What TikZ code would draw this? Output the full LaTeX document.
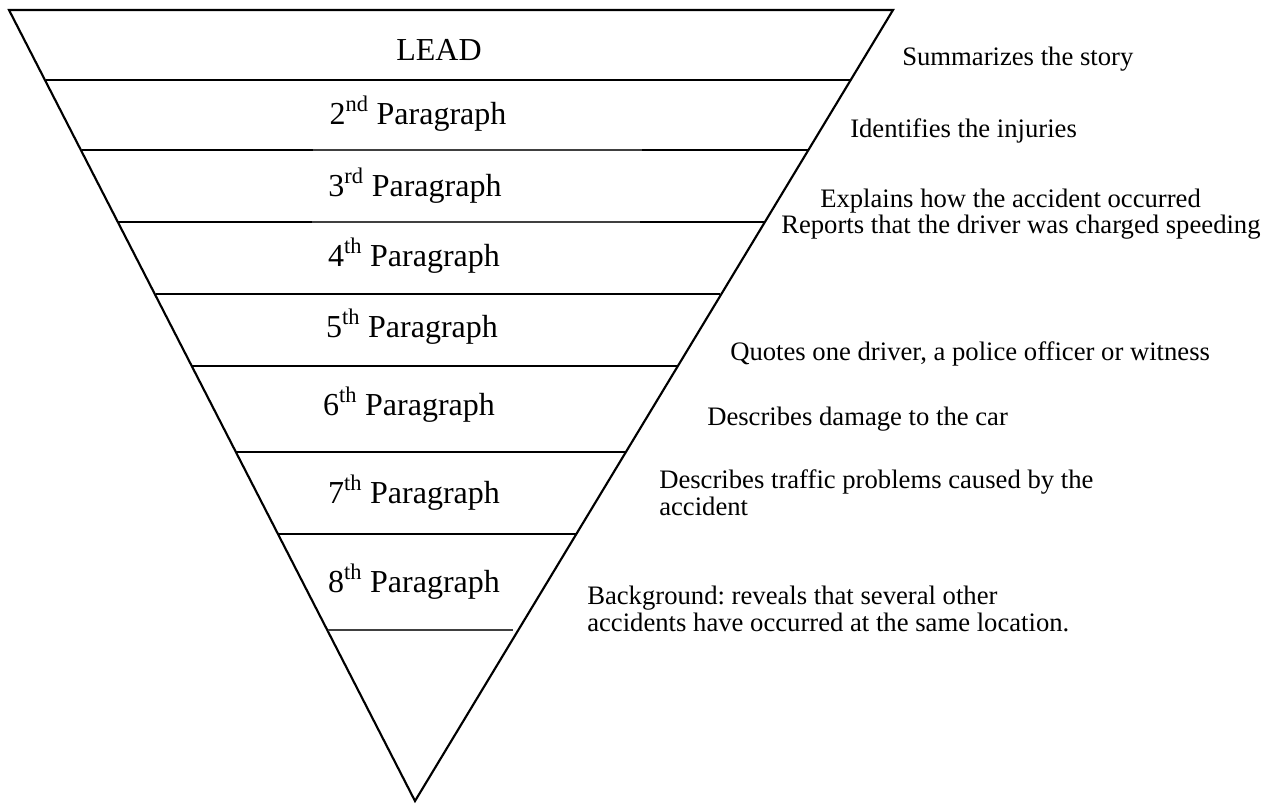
\documentclass[tikz,border=0pt]{standalone}
\usepackage{fontspec}
\setmainfont{Liberation Serif}
\frenchspacing
\tikzset{
  para/.style={font=\fontsize{24}{28}\selectfont, anchor=base, inner sep=0pt},
  desc/.style={font=\fontsize{20}{24}\selectfont, anchor=base west, inner sep=0pt},
  rule/.style={line width=1.6pt},
  thinrule/.style={line width=1pt, black!75}
}
\begin{document}
\begin{tikzpicture}[x=0.75pt,y=-0.75pt]
\useasboundingbox (0,0) rectangle (1274,803);
% funnel
\draw [rule,line join=miter](9,10) -- (893,10) -- (415,801) -- cycle;
% dividers
\draw [rule](46,80) -- (850,80);
\draw [rule](82,150) -- (313,150);
\draw [thinrule](313,150) -- (642,150);
\draw [rule](642,150) -- (808,150);
\draw [rule](118,222) -- (312,222);
\draw [thinrule](312,222) -- (640,222);
\draw [rule](640,222) -- (764,222);
\draw [rule](156,294) -- (720,294);
\draw [rule](192,366) -- (678,366);
\draw [rule](236,452) -- (625,452);
\draw [rule](278,534) -- (576,534);
\draw [thinrule,line width=1.6pt](328,630) -- (513,630);
% paragraph labels
\node [para] (lead) at (439,60) {LEAD};
\node [para] (p2) at (418,124) {2\textsuperscript{nd} Paragraph};
\node [para] (p3) at (415,196) {3\textsuperscript{rd} Paragraph};
\node [para] (p4) at (414,266) {4\textsuperscript{th} Paragraph};
\node [para] (p5) at (412,337) {5\textsuperscript{th} Paragraph};
\node [para] (p6) at (409,415) {6\textsuperscript{th} Paragraph};
\node [para] (p7) at (414,503) {7\textsuperscript{th} Paragraph};
\node [para] (p8) at (414,592) {8\textsuperscript{th} Paragraph};
% what each paragraph does
\node [desc] (summ) at (902,65) {Summarizes the story};
\node [desc] (inj) at (850,137) {Identifies the injuries};
\node [desc] (how) at (820,207) {Explains how the accident occurred};
\node [desc] (chg) at (781,233) {Reports that the driver was charged speeding};
\node [desc] (quote) at (730,360) {Quotes one driver, a police officer or witness};
\node [desc] (dmg) at (707,425) {Describes damage to the car};
\node [desc] (traf) at (659,488) {Describes traffic problems caused by the};
\node [desc] (trafb) at (659,515) {accident};
\node [desc] (bg) at (587,604) {Background: reveals that several other};
\node [desc] (bgb) at (587,631) {accidents have occurred at the same location.};
\end{tikzpicture}
\end{document}
